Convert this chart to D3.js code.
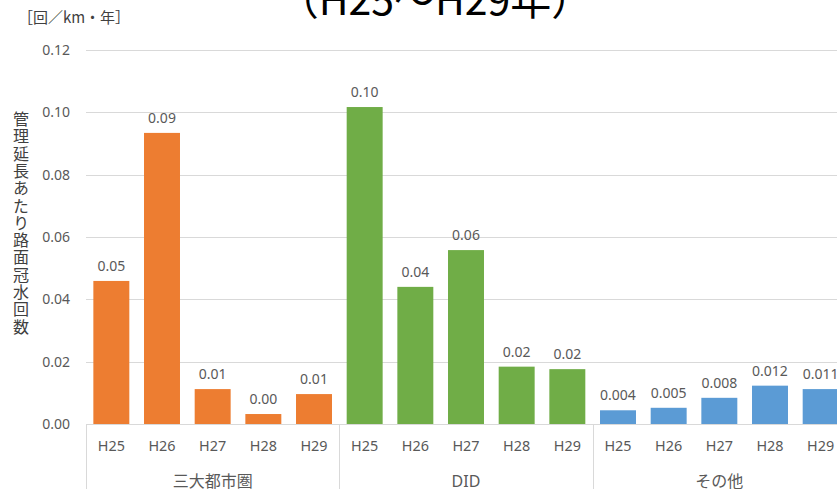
<!DOCTYPE html>
<html>
<head>
<meta charset="utf-8">
<script src="https://cdn.jsdelivr.net/npm/d3@7"></script>
<style>
  html, body { margin: 0; padding: 0; background: #fff; overflow: hidden; }
  svg { display: block; }
</style>
</head>
<body>
<svg id="chart" width="837" height="489"></svg>
<script>
// Road flooding count per km of managed length, by area type and fiscal year
const groups = ["三大都市圏", "DID", "その他"];
const years = ["H25", "H26", "H27", "H28", "H29"];
const metroValues = [0.0459, 0.0934, 0.0112, 0.0032, 0.0096];
const didValues = [0.1017, 0.0440, 0.0558, 0.0184, 0.0176];
const otherValues = [0.0044, 0.0052, 0.0084, 0.0123, 0.0112];
const groupColors = ["#ED7D31", "#70AD47", "#5B9BD5"];
const labelFormats = [".2f", ".2f", ".3f"];
const yTicks = [0, 0.02, 0.04, 0.06, 0.08, 0.10, 0.12];
const titleText = "（H25～H29年）";
const unitText = "［回／km・年］";
const yTitle = "管理延長あたり路面冠水回数";

const seriesValues = [metroValues, didValues, otherValues];
const rows = [];
groups.forEach((g, gi) => {
  years.forEach((yr, yi) => {
    rows.push({ key: g + "|" + yr, group: g, gi, year: yr, value: seriesValues[gi][yi] });
  });
});

const svg = d3.select("#chart");
const fontNum = "'Noto Sans', 'DejaVu Sans', sans-serif";
const fontJP = "'Noto Sans CJK JP', 'Noto Sans', sans-serif";
const textColor = "#595959";

const plotLeft = 86, plotRight = 846, plotTop = 50, plotBottom = 424;

const x = d3.scaleBand()
  .domain(rows.map(d => d.key))
  .range([plotLeft, plotRight])
  .paddingInner(0.29)
  .paddingOuter(0.145);

const y = d3.scaleLinear().domain([0, 0.12]).range([plotBottom, plotTop]);

// y tick labels
const yAxis = d3.axisLeft(y).tickValues(yTicks).tickFormat(d3.format(".2f")).tickSize(0).tickPadding(16);
const gy = svg.append("g").attr("transform", `translate(${plotLeft},0)`).call(yAxis);
gy.select(".domain").remove();
gy.selectAll("text").attr("fill", textColor).style("font-family", fontNum).style("font-size", "14px");

// horizontal gridlines
svg.append("g").selectAll("line").data(yTicks).join("line")
  .attr("x1", plotLeft).attr("x2", plotRight)
  .attr("y1", d => Math.round(y(d)) + 0.5).attr("y2", d => Math.round(y(d)) + 0.5)
  .attr("stroke", "#d9d9d9").attr("stroke-width", 1);

// bars
svg.append("g").selectAll("rect").data(rows).join("rect")
  .attr("x", d => x(d.key))
  .attr("width", x.bandwidth())
  .attr("y", d => y(d.value))
  .attr("height", d => y(0) - y(d.value))
  .attr("fill", d => groupColors[d.gi]);

// value labels
svg.append("g").selectAll("text").data(rows).join("text")
  .attr("x", d => x(d.key) + x.bandwidth() / 2)
  .attr("y", d => y(d.value) - 10)
  .attr("text-anchor", "middle")
  .attr("fill", textColor)
  .style("font-family", fontNum).style("font-size", "14px")
  .text(d => d3.format(labelFormats[d.gi])(d.value));

// category axis (two levels)
const step = x.step();
const outer = (x.range()[1] - x.range()[0] - step * rows.length) / 2;
const groupEdge = gi => plotLeft + outer + gi * years.length * step;

svg.append("g").selectAll("text").data(rows).join("text")
  .attr("x", d => x(d.key) + x.bandwidth() / 2)
  .attr("y", 451)
  .attr("text-anchor", "middle")
  .attr("fill", textColor)
  .style("font-family", fontNum).style("font-size", "14.4px")
  .text(d => d.year);

svg.append("g").selectAll("line").data(d3.range(groups.length + 1)).join("line")
  .attr("x1", gi => Math.round(groupEdge(gi)) + 0.5)
  .attr("x2", gi => Math.round(groupEdge(gi)) + 0.5)
  .attr("y1", plotBottom).attr("y2", 489)
  .attr("stroke", "#d9d9d9");

svg.append("g").selectAll("text").data(groups).join("text")
  .attr("x", (g, gi) => (groupEdge(gi) + groupEdge(gi + 1)) / 2)
  .attr("y", 487)
  .attr("text-anchor", "middle")
  .attr("fill", textColor)
  .style("font-family", g => /^[A-Z]+$/.test(g) ? fontNum : fontJP)
  .style("font-size", "16px")
  .text(g => g);

// vertical y-axis title
svg.append("text")
  .attr("x", 21).attr("y", 111)
  .attr("fill", "#404040")
  .style("font-family", fontJP).style("font-size", "16px")
  .style("writing-mode", "vertical-rl")
  .style("text-orientation", "upright")
  .style("letter-spacing", "1.3px")
  .text(yTitle);

// unit label
svg.append("text")
  .attr("x", 74).attr("y", 23)
  .attr("text-anchor", "middle")
  .attr("fill", "#404040")
  .style("font-family", fontJP).style("font-size", "15px")
  .text(unitText);

// chart title (partly above the top edge)
svg.append("text")
  .attr("x", 435).attr("y", 15)
  .attr("text-anchor", "middle")
  .attr("fill", "#000")
  .style("font-family", fontJP).style("font-size", "41px")
  .text(titleText);
</script>
</body>
</html>
